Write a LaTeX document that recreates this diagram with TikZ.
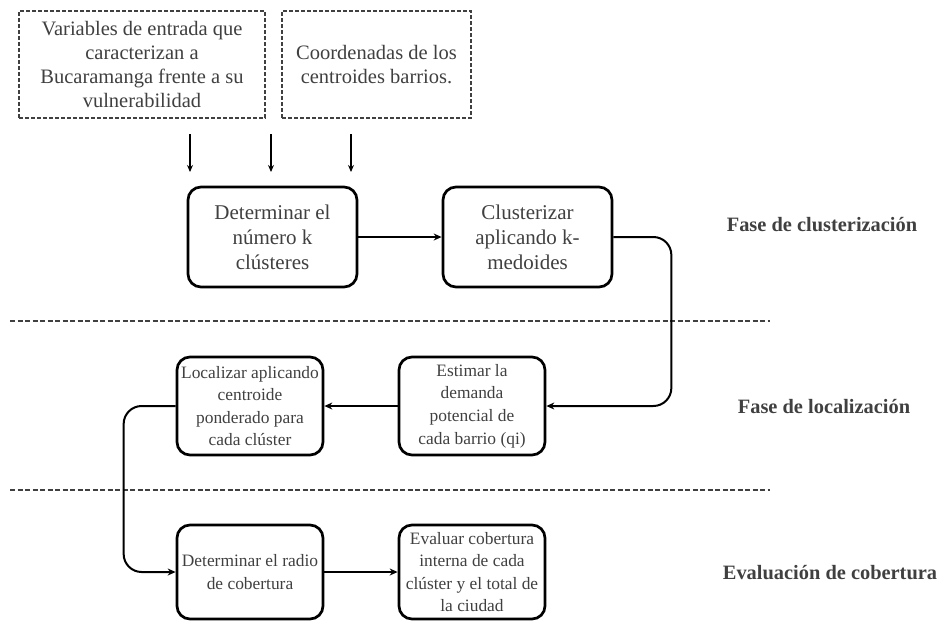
\documentclass[tikz,border=0pt]{standalone}
\usepackage{fontspec}
\setmainfont{Liberation Serif}
\usetikzlibrary{arrows.meta}
\definecolor{txt}{HTML}{404040}
\begin{document}
\begin{tikzpicture}[x=1pt,y=-1pt,
  proc/.style={draw=black, line width=2.7pt, rounded corners=13pt, inner sep=0pt,
    align=center, text=txt, font=\fontsize{17.4}{22.6}\selectfont},
  bigproc/.style={proc, font=\fontsize{21}{25}\selectfont},
  inbox/.style={draw=txt, line width=1.3pt, dash pattern=on 4pt off 2pt, inner sep=0pt,
    align=center, text=txt, font=\fontsize{20.5}{24}\selectfont},
  phase/.style={text=txt, font=\fontsize{20.4}{24}\selectfont\bfseries, inner sep=0pt},
  conn/.style={draw=black, line width=2pt, -{Stealth[length=8pt,width=7pt]}},
  thin/.style={draw=black, line width=1.5pt, -{Stealth[length=7pt,width=6pt]}},
  sep/.style={draw=txt, line width=1.2pt, dash pattern=on 5pt off 2.5pt}]
\useasboundingbox (0,0) rectangle (940,622);

% input boxes
\node[inbox, minimum width=246pt, minimum height=107pt] (in1) at (142,64.5)
  {Variables de entrada que\\caracterizan a\\Bucaramanga frente a su\\vulnerabilidad};
\node[inbox, minimum width=189pt, minimum height=107pt] (in2) at (376.5,64.5)
  {Coordenadas de los\\centroides barrios.};

% process boxes
\node[bigproc, minimum width=169pt, minimum height=100pt] (det) at (272.5,237)
  {Determinar el\\número k\\clústeres};
\node[bigproc, minimum width=169pt, minimum height=100pt] (clu) at (527.5,237)
  {Clusterizar\\aplicando k-\\medoides};
\node[proc, minimum width=146pt, minimum height=98pt] (est) at (472,406)
  {Estimar la\\demanda\\potencial de\\cada barrio (qi)};
\node[proc, minimum width=146pt, minimum height=98pt] (loc) at (250,406)
  {Localizar aplicando\\centroide\\ponderado para\\cada clúster};
\node[proc, minimum width=146pt, minimum height=94pt] (rad) at (250,572)
  {Determinar el radio\\de cobertura};
\node[proc, minimum width=146pt, minimum height=94pt] (eva) at (472,572)
  {Evaluar cobertura\\interna de cada\\clúster y el total de\\la ciudad};

% phase labels
\node[phase] (ph1) at (822,225) {Fase de clusterización};
\node[phase] (ph2) at (824,407) {Fase de localización};
\node[phase] (ph3) at (830,573) {Evaluación de cobertura};

% separators
\coordinate (s1a) at (10,321); \coordinate (s1b) at (770,321);
\coordinate (s2a) at (10,490); \coordinate (s2b) at (770,490);
\draw[sep] (s1a) -- (s1b);
\draw[sep] (s2a) -- (s2b);

% input arrows
\coordinate (a1s) at (190,134); \coordinate (a1e) at (190,172);
\coordinate (a2s) at (271,134); \coordinate (a2e) at (271,172);
\coordinate (a3s) at (351,134); \coordinate (a3e) at (351,172);
\draw[thin] (a1s) -- (a1e);
\draw[thin] (a2s) -- (a2e);
\draw[thin] (a3s) -- (a3e);

% connectors
\draw[conn] (det.east) -- (clu.west);
\draw[conn, rounded corners=18pt] (clu.east) -- ++(58,0) |- (est.east);
\draw[conn] (est.west) -- (loc.west -| loc.east);
\draw[conn, rounded corners=18pt] (loc.west) -- ++(-52,0) |- (rad.west);
\draw[conn] (rad.east) -- (eva.west);
\end{tikzpicture}
\end{document}
